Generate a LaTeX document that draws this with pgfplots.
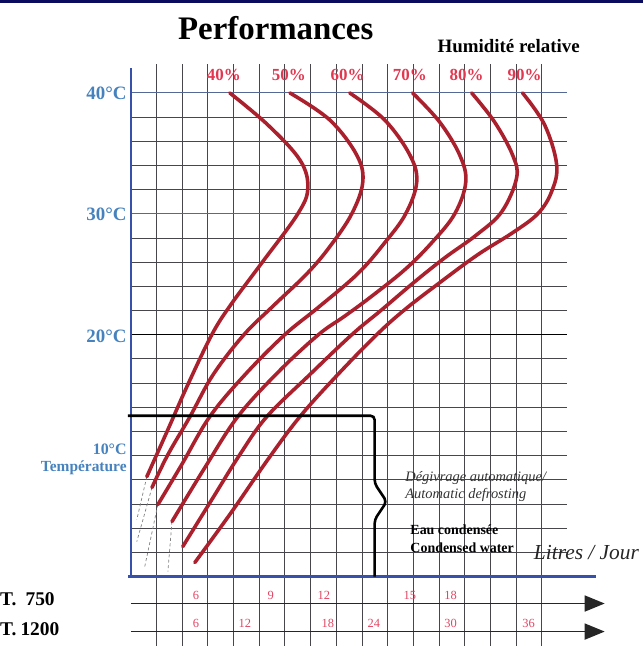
\documentclass[border=0pt]{standalone}
\usepackage{pgfplots}
\pgfplotsset{compat=1.18}
\usepackage{fontspec}
\setmainfont{Liberation Serif}
\usetikzlibrary{arrows.meta}
\definecolor{gridc}{RGB}{70,70,75}
\definecolor{axisblue}{RGB}{55,80,170}
\definecolor{lineblue}{RGB}{85,105,150}
\definecolor{lblblue}{RGB}{70,130,190}
\definecolor{lblred}{RGB}{225,55,80}
\definecolor{curvered}{RGB}{170,32,45}
\definecolor{numred}{RGB}{225,70,100}
\definecolor{navy}{RGB}{10,10,95}
\begin{document}
\begin{tikzpicture}
\begin{axis}[
  width=643bp, height=646bp, scale only axis,
  xmin=-5.097, xmax=19.922, ymin=-5.702, ymax=47.686,
  axis lines=none, ticks=none, clip=false,
]
% top bar
\fill[navy] (axis cs:-5.097,47.686) rectangle (axis cs:19.922,47.44);
% grid
\pgfplotsinvokeforeach{1,...,16}{\draw[gridc, line width=1pt] (axis cs:#1,-5.702) -- (axis cs:#1,42.4);}
\pgfplotsinvokeforeach{2,4,6,8,10,12,14,16,18,22,24,26,28,32,34,36,38}{\draw[gridc, line width=0.9pt] (axis cs:0,#1) -- (axis cs:17,#1);}
\draw[black, line width=1.1pt] (axis cs:0,20) -- (axis cs:17,20);
\draw[lineblue, line width=1.1pt] (axis cs:0,30) -- (axis cs:17,30);
\draw[lineblue, line width=1.1pt] (axis cs:0,40) -- (axis cs:17,40);
% axes
\draw[axisblue, line width=2.2pt] (axis cs:0,0) -- (axis cs:0,42.1);
\draw[axisblue, line width=2.2pt] (axis cs:-0.1,0) -- (axis cs:18.1,0);

% dashed extrapolations
\addplot[gray, line width=0.7pt, dash pattern=on 3pt off 2.5pt] coordinates {(0.62,8.26) (0.23,4.71)};
\addplot[gray, line width=0.7pt, dash pattern=on 3pt off 2.5pt] coordinates {(0.82,7.36) (0.23,2.89)};
\addplot[gray, line width=0.7pt, dash pattern=on 3pt off 2.5pt] coordinates {(1.05,5.95) (0.54,0.83)};
\addplot[gray, line width=0.7pt, dash pattern=on 3pt off 2.5pt] coordinates {(1.60,4.55) (1.44,0.41)};

% humidity curves
\pgfplotsset{hcurve/.style={curvered, line width=3.6pt, smooth, tension=0.6, line cap=round}}
% 40%
\addplot[hcurve] coordinates {(3.85,40) (5.33,37.36) (6.58,34.46) (6.89,32.15) (6.50,30.0) (5.10,25.95) (3.89,22.48) (3.15,20.0) (2.18,15.70) (1.44,12.15) (0.62,8.26)};
% 50%
\addplot[hcurve] coordinates {(6.19,40) (7.74,37.77) (8.79,34.88) (9.03,32.64) (8.60,30.0) (7.74,27.27) (6.85,25.04) (5.55,22.40) (4.40,20.0) (3.20,16.69) (2.30,13.22) (1.44,10.08) (0.82,7.36)};
% 60%
\addplot[hcurve] coordinates {(8.52,40) (9.88,37.77) (10.86,34.88) (11.13,32.64) (10.70,30.0) (9.88,27.60) (8.83,25.04) (7.28,22.23) (5.99,20.0) (4.44,16.69) (3.07,13.22) (1.98,9.26) (1.05,5.95)};
% 70%
\addplot[hcurve] coordinates {(10.97,40) (12.02,37.60) (12.80,34.88) (13.04,32.64) (12.61,30.0) (11.71,27.60) (10.66,25.37) (9.30,23.06) (8.30,21.50) (7.30,20.0) (5.75,16.94) (4.16,13.22) (2.88,9.01) (1.60,4.55)};
% 80%
\addplot[hcurve] coordinates {(13.27,40) (14.16,37.60) (14.86,34.88) (15.02,32.98) (14.44,30.17) (13.46,28.26) (12.22,26.36) (11.05,24.38) (9.77,22.07) (8.60,20.0) (6.96,16.69) (5.29,13.22) (4.24,10.08) (3.15,6.36) (2.02,2.48)};
% 90%
\addplot[hcurve] coordinates {(15.25,40) (16.11,37.36) (16.58,34.05) (16.38,31.82) (15.84,30.0) (14.86,28.43) (13.50,26.61) (12.02,24.30) (10.66,22.07) (9.57,20.0) (8.05,16.69) (6.58,13.22) (5.33,9.67) (3.93,5.37) (2.49,1.16)};

% condensed-water box with brace
\addplot[black, line width=2.6pt, rounded corners=4pt] coordinates {(-0.12,13.3) (9.49,13.3) (9.49,7.7) (9.96,6.2) (9.49,4.7) (9.49,0)};

% model rows
\addplot[black!85, line width=1.6pt, -{Triangle[length=20bp,width=16bp]}] coordinates {(0,-2.23) (18.45,-2.23)};
\addplot[black!85, line width=1.6pt, -{Triangle[length=20bp,width=16bp]}] coordinates {(0,-4.55) (18.45,-4.55)};

% texts
\node[font=\fontsize{33}{33}\selectfont\bfseries] at (axis cs:5.64,45.37) {Performances};
\node[font=\fontsize{19}{19}\selectfont\bfseries] at (axis cs:14.71,43.88) {Humidité relative};
\begin{scope}[every node/.style={font=\fontsize{17}{17}\selectfont\bfseries, text=lblred}]
\node at (axis cs:3.62,41.49) {40\%};
\node at (axis cs:6.15,41.49) {50\%};
\node at (axis cs:8.44,41.49) {60\%};
\node at (axis cs:10.86,41.49) {70\%};
\node at (axis cs:13.07,41.49) {80\%};
\node at (axis cs:15.33,41.49) {90\%};
\end{scope}
\begin{scope}[every node/.style={font=\fontsize{19}{19}\selectfont\bfseries, text=lblblue, anchor=east, inner sep=1pt}]
\node at (axis cs:-0.12,40) {40°C};
\node at (axis cs:-0.12,30) {30°C};
\node at (axis cs:-0.12,19.9) {20°C};
\end{scope}
\node[font=\fontsize{16}{16}\selectfont\bfseries, text=lblblue, anchor=east, inner sep=1pt] at (axis cs:-0.12,10.55) {10°C};
\node[font=\fontsize{15.5}{15.5}\selectfont\bfseries, text=lblblue, anchor=east, inner sep=1pt] at (axis cs:-0.12,9.0) {Température};
\node[anchor=west, font=\fontsize{14.5}{14.5}\selectfont\itshape, text=black!80] at (axis cs:10.55,8.18) {Dégivrage automatique/};
\node[anchor=west, font=\fontsize{14.5}{14.5}\selectfont\itshape, text=black!80] at (axis cs:10.55,6.78) {Automatic defrosting};
\node[anchor=west, font=\fontsize{14}{14}\selectfont\bfseries] at (axis cs:10.75,3.88) {Eau condensée};
\node[anchor=west, font=\fontsize{14}{14}\selectfont\bfseries] at (axis cs:10.75,2.40) {Condensed water};
\node[font=\fontsize{21.5}{21.5}\selectfont\itshape, text=black!85] at (axis cs:17.74,1.98) {Litres / Jour};
\node[anchor=west, inner sep=0pt, font=\fontsize{19.5}{19.5}\selectfont\bfseries] at (axis cs:-5.097,-1.90) {T.\hspace{9bp}750};
\node[anchor=west, inner sep=0pt, font=\fontsize{19.5}{19.5}\selectfont\bfseries] at (axis cs:-5.097,-4.38) {T.\hspace{4bp}1200};
\begin{scope}[every node/.style={font=\fontsize{12.5}{12.5}\selectfont, text=numred}]
\node at (axis cs:2.53,-1.55) {6};
\node at (axis cs:5.45,-1.55) {9};
\node at (axis cs:7.51,-1.55) {12};
\node at (axis cs:10.86,-1.55) {15};
\node at (axis cs:12.45,-1.55) {18};
\node at (axis cs:2.53,-3.85) {6};
\node at (axis cs:4.44,-3.85) {12};
\node at (axis cs:7.67,-3.85) {18};
\node at (axis cs:9.46,-3.85) {24};
\node at (axis cs:12.45,-3.85) {30};
\node at (axis cs:15.49,-3.85) {36};
\end{scope}
\end{axis}
\end{tikzpicture}
\end{document}
